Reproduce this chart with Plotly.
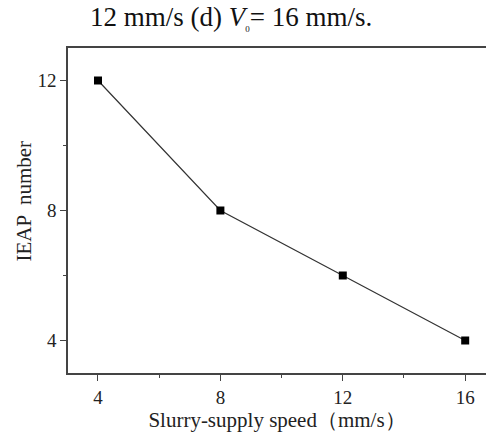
import plotly.graph_objects as go

# Slurry-supply speed (mm/s) vs. IEAP count
speed = [4, 8, 12, 16]
ieap_number = [12, 8, 6, 4]

x_ticks = [4, 8, 12, 16]
y_ticks = [4, 8, 12]

serif = "Liberation Serif, Times New Roman, serif"

fig = go.Figure()
fig.add_trace(go.Scatter(
    x=speed, y=ieap_number,
    mode="lines+markers",
    line=dict(color="#333333", width=1.2),
    marker=dict(symbol="square", size=8, color="black"),
    showlegend=False,
))

axis_common = dict(
    showline=True, linecolor="#444444", linewidth=1.5,
    ticks="outside", ticklen=6, tickwidth=1, tickcolor="#444444",
    showgrid=False, zeroline=False,
    tickfont=dict(family=serif, size=19, color="#222222"),
    minor=dict(ticks="outside", ticklen=3, tickwidth=1, tickcolor="#444444", showgrid=False),
)

fig.update_xaxes(
    range=[3.02, 16.68], tickvals=x_ticks, mirror=True,
    title=dict(text="Slurry-supply speed（mm/s）", font=dict(family=serif, size=21, color="#222222"), standoff=6),
    minor_dtick=2, minor_tick0=0, ticklabelstandoff=0,
    **axis_common,
)
fig.update_yaxes(
    range=[3.0, 13.0], tickvals=y_ticks,
    minor_dtick=2, minor_tick0=0,
    **axis_common,
)

# y-axis title, placed by hand so it sits slightly above the plot centre
fig.add_annotation(
    text="IEAP  number",
    xref="paper", yref="paper", x=0, y=0.5, xshift=-45, yshift=9,
    xanchor="center", yanchor="middle", textangle=-90, showarrow=False,
    font=dict(family=serif, size=21, color="#222222"),
)

fig.add_annotation(
    text="12 mm/s (d) <i>V</i><sub><span style='font-size:9px'>0</span></sub>= 16 mm/s.",
    xref="paper", yref="paper", x=0.39, y=1.0, yshift=48,
    xanchor="center", yanchor="top", showarrow=False,
    font=dict(family=serif, size=27, color="#111111"),
)

fig.update_layout(
    width=486, height=439,
    margin=dict(l=68, r=0, t=48, b=66),
    paper_bgcolor="white", plot_bgcolor="white",
)

fig.write_html("out.html")
